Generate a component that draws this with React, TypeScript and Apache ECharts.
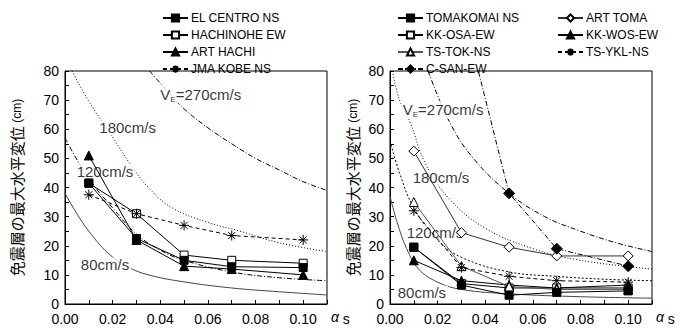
import React, { useEffect, useRef } from 'react';
import * as echarts from 'echarts';

// x positions of the analysed cases
const alphaS = [0.01, 0.03, 0.05, 0.07, 0.1];

// left panel series (cm)
const elCentroNS = [41.5, 22.5, 15, 12.8, 12.5];
const hachinoheEW = [41.5, 31, 16.8, 15, 14];
const artHachi = [51, 22, 13, 12, 10];
const jmaKobeNS = [37.5, 31, 27, 23.5, 22];

// right panel series (cm)
const tomakomaiNS = [19.5, 6.5, 3, 4, 4.5];
const artToma = [52.5, 24.5, 19.5, 16.5, 16.5];
const kkOsaEW = [19.5, 7, 5.5, 5.5, 5.5];
const kkWosEW = [15, 8, 6.5, 5.5, 6.5];
const tsTokNS = [35, 13, 6, 5, 5];
const tsYklNS = [32, 12.5, 9.5, 8, 7.5];
const cSanEW = [null, 103, 38, 19, 13];

// V_E reference curves, left panel [alpha_s, cm]
const curveL270 = [[0.0355, 80], [0.042, 74], [0.05, 67], [0.06, 60.5], [0.07, 55], [0.08, 50], [0.09, 46], [0.1, 42], [0.11, 39]];
const curveL180 = [[0.003, 80], [0.0097, 70], [0.021, 56], [0.027, 48.5], [0.035, 40], [0.045, 33], [0.06, 28], [0.0735, 25], [0.09, 21], [0.11, 18]];
const curveL120 = [[0, 57], [0.004, 51], [0.01, 43], [0.02, 33], [0.03, 24], [0.04, 18.5], [0.05, 15], [0.07, 11], [0.09, 9], [0.11, 8]];
const curveL80 = [[0, 38], [0.005, 31], [0.01, 25], [0.018, 17.5], [0.0265, 12.7], [0.035, 10], [0.05, 7.6], [0.07, 5.5], [0.09, 4.2], [0.11, 3.1]];

// V_E reference curves, right panel
const curveR270 = [[0.016, 80], [0.025, 62.5], [0.035, 50], [0.05, 38], [0.065, 30], [0.08, 25], [0.095, 21], [0.11, 18]];
const curveR180 = [[0.001, 80], [0.004, 70], [0.0084, 62.5], [0.015, 48], [0.025, 36], [0.04, 26], [0.06, 19], [0.08, 15], [0.11, 12]];
const curveR120 = [[0, 56], [0.004, 45], [0.01, 33], [0.02, 22], [0.03, 16], [0.05, 11], [0.07, 9.5], [0.09, 8.5], [0.11, 8]];
const curveR80 = [[0, 37], [0.003, 28], [0.007, 19], [0.012, 12], [0.02, 7.5], [0.03, 5], [0.05, 3.5], [0.08, 2.5], [0.11, 2]];

// curve labels [alpha_s, cm, text]
const labelsL = [[0.057, 72, 'VE'], [0.0263, 60.5, '180cm/s'], [0.0168, 45.4, '120cm/s'], [0.0168, 13.4, '80cm/s']];
const labelsR = [[0.0223, 66.7, 'VE'], [0.0214, 43.3, '180cm/s'], [0.0189, 24.4, '120cm/s'], [0.0134, 3.8, '80cm/s']];

const FONT = '"Liberation Sans", Arial, "Noto Sans CJK JP", sans-serif';
const ASTER = 'path://M5,0L5,10M0,5L10,5M1.5,1.5L8.5,8.5M1.5,8.5L8.5,1.5';

const pts = (ys: (number | null)[]) => alphaS.map((x, i) => [x, ys[i]]);

function dataSeries(name: string, ys: (number | null)[], idx: number, opt: any) {
  return {
    type: 'line',
    name,
    xAxisIndex: idx,
    yAxisIndex: idx,
    data: pts(ys),
    symbol: opt.symbol,
    symbolSize: opt.size ?? 8,
    lineStyle: { color: opt.line ?? '#000', width: 1, type: opt.dash ?? 'solid' },
    itemStyle: {
      color: opt.fill ?? '#000',
      borderColor: '#000',
      borderWidth: 1,
    },
    z: opt.z ?? 5,
  };
}

function curve(data: number[][], idx: number, dash: any, color = '#000') {
  return {
    type: 'line',
    xAxisIndex: idx,
    yAxisIndex: idx,
    data,
    smooth: 0.4,
    symbol: 'none',
    silent: true,
    lineStyle: { color, width: 1, type: dash },
    z: 2,
  };
}

function labelSeries(items: any[], idx: number) {
  return {
    type: 'scatter',
    xAxisIndex: idx,
    yAxisIndex: idx,
    symbolSize: 0,
    silent: true,
    z: 4,
    data: items.map((d) => ({ value: [d[0], d[1]], name: d[2] })),
    label: {
      show: true,
      position: 'inside',
      fontFamily: FONT,
      fontSize: 15,
      color: '#000',
      backgroundColor: '#fff',
      padding: [0, 2],
      formatter: (p: any) => (p.name === 'VE' ? '{v|V}{e|E}{v|=270cm/s}' : p.name),
      rich: {
        v: { fontFamily: FONT, fontSize: 15, color: '#000', lineHeight: 18 },
        e: { fontFamily: FONT, fontSize: 8, color: '#000', lineHeight: 18, verticalAlign: 'bottom', padding: [6, 0, 0, 0] },
      },
    },
  };
}

function xAxis(idx: number) {
  return {
    type: 'value',
    gridIndex: idx,
    min: 0,
    max: 0.11,
    interval: 0.01,
    name: '{a|α}{s| s}',
    nameLocation: 'end',
    nameGap: 4,
    nameTextStyle: {
      color: '#000',
      verticalAlign: 'top',
      padding: [6, 0, 0, 0],
      rich: {
        a: { fontFamily: FONT, fontSize: 14, fontStyle: 'italic', color: '#000', padding: [0, 0, 4, 0] },
        s: { fontFamily: FONT, fontSize: 14, color: '#000' },
      },
    },
    axisLine: { lineStyle: { color: '#000', width: 1 } },
    axisTick: { inside: true, length: 4, lineStyle: { color: '#000' } },
    splitLine: { show: false },
    axisLabel: {
      interval: 0,
      margin: 8,
      fontFamily: FONT,
      fontSize: 14,
      color: '#000',
      formatter: (v: number, i: number) => (i % 2 === 0 && v < 0.105 ? v.toFixed(2) : ''),
    },
  };
}

function yAxis(idx: number, gap: number) {
  return {
    type: 'value',
    gridIndex: idx,
    min: 0,
    max: 80,
    interval: 5,
    name: '{m|免震層の最大水平変位 }{c|(cm)}',
    nameLocation: 'middle',
    nameGap: gap,
    nameRotate: 90,
    nameTextStyle: {
      color: '#000',
      rich: {
        m: { fontFamily: '"Noto Sans CJK JP", sans-serif', fontSize: 15, color: '#000' },
        c: { fontFamily: FONT, fontSize: 12, color: '#000' },
      },
    },
    axisLine: { show: true, lineStyle: { color: '#000', width: 1 } },
    axisTick: { inside: true, length: 4, lineStyle: { color: '#000' } },
    splitLine: { show: false },
    axisLabel: {
      margin: 6,
      fontFamily: FONT,
      fontSize: 14,
      color: '#000',
      formatter: (v: number) => (v % 10 === 0 ? String(v) : ''),
    },
  };
}

const legendBase = {
  orient: 'vertical',
  itemWidth: 25,
  itemHeight: 9,
  itemGap: 5,
  selectedMode: false,
  textStyle: { fontFamily: FONT, fontSize: 12, color: '#000', padding: [0, 0, 0, -2] },
};

export default function App() {
  const ref = useRef<HTMLDivElement>(null);
  useEffect(() => {
    if (!ref.current) return;
    const chart = echarts.init(ref.current, undefined, { renderer: 'svg' });
    chart.setOption({
      animation: false,
      backgroundColor: '#fff',
      grid: [
        { left: 65, top: 71, width: 262, height: 233, show: true, borderColor: '#000', borderWidth: 1 },
        { left: 390, top: 71, width: 262, height: 233, show: true, borderColor: '#000', borderWidth: 1 },
      ],
      xAxis: [xAxis(0), xAxis(1)],
      yAxis: [yAxis(0, 41), yAxis(1, 30)],
      legend: [
        { ...legendBase, left: 157, top: 7, data: ['EL CENTRO NS', 'HACHINOHE EW', 'ART HACHI', 'JMA KOBE NS'] },
        { ...legendBase, left: 392, top: 7, data: ['TOMAKOMAI NS', 'KK-OSA-EW', 'TS-TOK-NS', 'C-SAN-EW'] },
        { ...legendBase, left: 552, top: 7, data: ['ART TOMA', 'KK-WOS-EW', 'TS-YKL-NS'] },
      ],
      series: [
        curve(curveL270, 0, [5, 2, 1, 2]),
        curve(curveL180, 0, [1, 2]),
        curve(curveL120, 0, [5, 2, 1, 2]),
        curve(curveL80, 0, 'solid', '#444'),
        curve(curveR270, 1, [5, 2, 1, 2]),
        curve(curveR180, 1, [1, 2]),
        curve(curveR120, 1, [2, 2]),
        curve(curveR80, 1, 'solid', '#444'),
        labelSeries(labelsL, 0),
        labelSeries(labelsR, 1),
        dataSeries('HACHINOHE EW', hachinoheEW, 0, { symbol: 'rect', fill: '#fff', z: 5 }),
        dataSeries('EL CENTRO NS', elCentroNS, 0, { symbol: 'rect', z: 6 }),
        dataSeries('ART HACHI', artHachi, 0, { symbol: 'triangle', size: 9 }),
        dataSeries('JMA KOBE NS', jmaKobeNS, 0, { symbol: ASTER, fill: 'none', dash: [4, 3], size: 10 }),
        dataSeries('KK-OSA-EW', kkOsaEW, 1, { symbol: 'rect', fill: '#fff', z: 5 }),
        dataSeries('TOMAKOMAI NS', tomakomaiNS, 1, { symbol: 'rect', z: 6 }),
        dataSeries('ART TOMA', artToma, 1, { symbol: 'diamond', fill: '#fff', line: '#333', size: 10 }),
        dataSeries('KK-WOS-EW', kkWosEW, 1, { symbol: 'triangle', size: 9 }),
        dataSeries('TS-TOK-NS', tsTokNS, 1, { symbol: 'triangle', fill: '#fff', line: '#555', size: 9 }),
        dataSeries('TS-YKL-NS', tsYklNS, 1, { symbol: ASTER, fill: 'none', dash: [4, 3], size: 10 }),
        dataSeries('C-SAN-EW', cSanEW, 1, { symbol: 'diamond', size: 11, dash: [5, 2, 1, 2] }),
      ],
    });
    return () => chart.dispose();
  }, []);
  return <div ref={ref} style={{ width: 683, height: 329, position: 'absolute', left: 0, top: 0 }} />;
}
